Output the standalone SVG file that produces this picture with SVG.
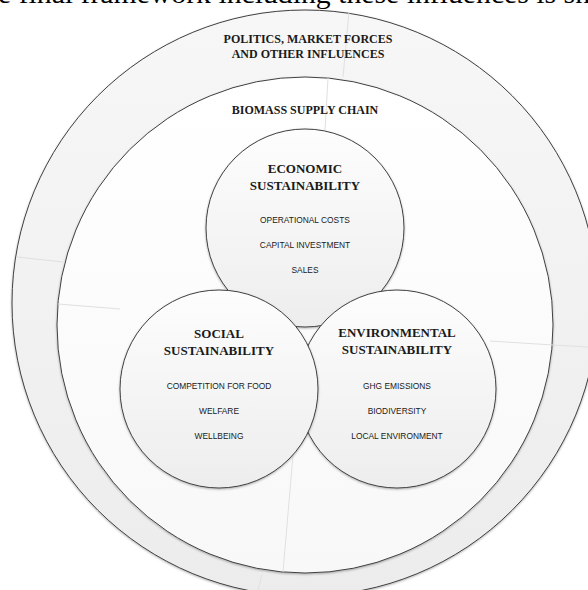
<svg xmlns="http://www.w3.org/2000/svg" width="588" height="590" viewBox="0 0 588 590">
  <defs>
    <linearGradient id="gOuter" x1="0" y1="0" x2="0" y2="1">
      <stop offset="0" stop-color="#f7f7f7"/>
      <stop offset="1" stop-color="#ececec"/>
    </linearGradient>
    <linearGradient id="gInner" x1="0" y1="0" x2="0" y2="1">
      <stop offset="0" stop-color="#ffffff"/>
      <stop offset="1" stop-color="#f8f8f8"/>
    </linearGradient>
    <linearGradient id="gPillar" x1="0" y1="0" x2="0" y2="1">
      <stop offset="0" stop-color="#fdfdfd"/>
      <stop offset="1" stop-color="#ededed"/>
    </linearGradient>
    <filter id="soft" x="-10%" y="-10%" width="120%" height="120%">
      <feDropShadow dx="0" dy="1" stdDeviation="1" flood-color="#000" flood-opacity="0.3"/>
    </filter>
  </defs>
  <style>
    .ring { stroke: #404040; stroke-width: 1; filter: url(#soft); }
    .seam { stroke: #e0e0e0; stroke-width: 1; fill: none; }
    .title { font-family: "Liberation Serif", "Times New Roman", serif; font-weight: bold; fill: #1a1a1a; text-anchor: middle; }
    .item { font-family: "Liberation Sans", Arial, sans-serif; font-size: 8.4px; fill: #1a1a1a; text-anchor: middle; }
    .lead { font-family: "Liberation Serif", "Times New Roman", serif; font-size: 28px; fill: #000; }
  </style>

  <rect width="588" height="590" fill="#ffffff"/>

  <!-- running text line above the figure -->
  <text class="lead" x="-2" y="3" textLength="592" lengthAdjust="spacingAndGlyphs">e final framework including these influences is sh</text>

  <!-- outer influence ring -->
  <g id="influences">
    <circle class="ring" cx="305" cy="303" r="293" fill="url(#gOuter)"/>
    <line class="seam" x1="349" y1="12" x2="343" y2="77"/>
    <line class="seam" x1="17" y1="257" x2="63" y2="262"/>
    <line class="seam" x1="553" y1="345" x2="588" y2="347"/>
    <line class="seam" x1="262" y1="574" x2="258" y2="590"/>
    <text class="title" font-size="12" x="308" y="43">POLITICS, MARKET FORCES</text>
    <text class="title" font-size="12" x="308" y="58">AND OTHER INFLUENCES</text>
  </g>

  <!-- supply chain circle -->
  <g id="supply-chain">
    <circle class="ring" cx="305" cy="325" r="248" fill="url(#gInner)"/>
    <line class="seam" x1="328" y1="78" x2="325" y2="130"/>
    <line class="seam" x1="58" y1="304" x2="120" y2="309"/>
    <line class="seam" x1="490" y1="341" x2="553" y2="345"/>
    <line class="seam" x1="293" y1="455" x2="283" y2="572"/>
    <text class="title" font-size="12" x="305" y="114">BIOMASS SUPPLY CHAIN</text>
  </g>

  <!-- economic pillar -->
  <g id="economic">
    <circle class="ring" cx="305" cy="228" r="99" fill="url(#gPillar)"/>
    <text class="title" font-size="13" x="305" y="173">ECONOMIC</text>
    <text class="title" font-size="13" x="305" y="190">SUSTAINABILITY</text>
    <text class="item" x="305" y="223">OPERATIONAL COSTS</text>
    <text class="item" x="305" y="248">CAPITAL INVESTMENT</text>
    <text class="item" x="305" y="273">SALES</text>
  </g>

  <!-- environmental pillar -->
  <g id="environmental">
    <circle class="ring" cx="397" cy="389" r="99" fill="url(#gPillar)"/>
    <text class="title" font-size="13" x="397" y="337">ENVIRONMENTAL</text>
    <text class="title" font-size="13" x="397" y="354">SUSTAINABILITY</text>
    <text class="item" x="397" y="389">GHG EMISSIONS</text>
    <text class="item" x="397" y="414">BIODIVERSITY</text>
    <text class="item" x="397" y="439">LOCAL ENVIRONMENT</text>
  </g>

  <!-- social pillar -->
  <g id="social">
    <circle class="ring" cx="219" cy="389" r="99" fill="url(#gPillar)"/>
    <text class="title" font-size="13" x="219" y="338">SOCIAL</text>
    <text class="title" font-size="13" x="219" y="355">SUSTAINABILITY</text>
    <text class="item" x="219" y="389">COMPETITION FOR FOOD</text>
    <text class="item" x="219" y="414">WELFARE</text>
    <text class="item" x="219" y="439">WELLBEING</text>
  </g>

  <!-- no connectors in this figure -->
  <g id="connectors"/>
</svg>
